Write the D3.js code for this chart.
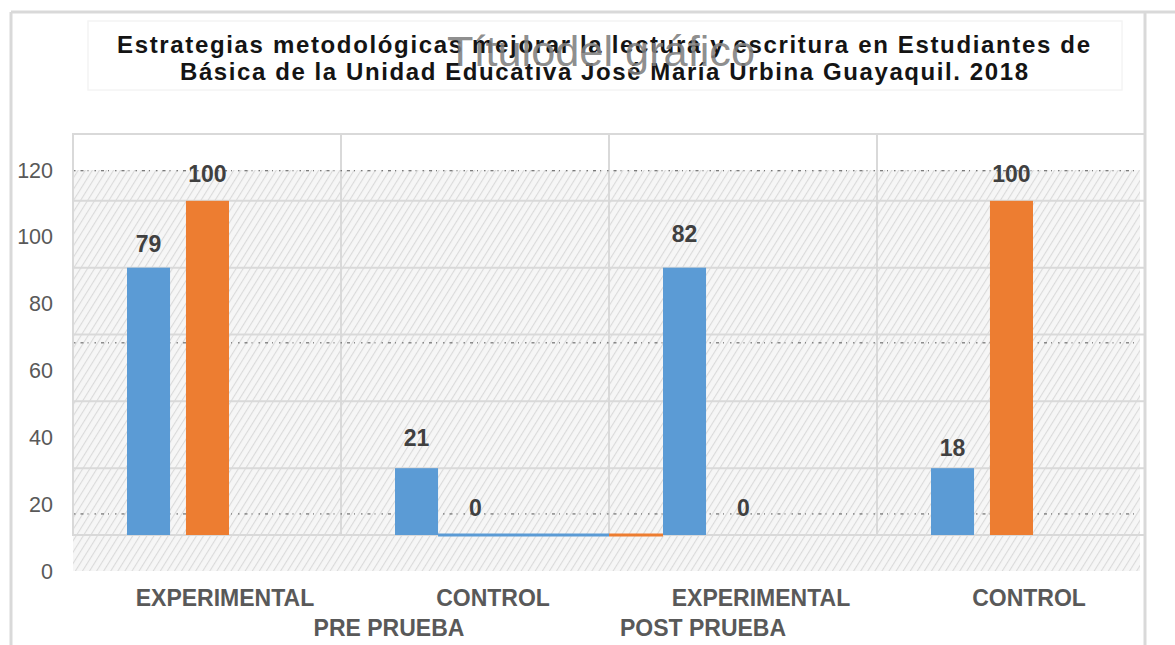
<!DOCTYPE html>
<html lang="es">
<head>
  <meta charset="UTF-8">
  <title>Estrategias metodológicas</title>
  <style>
  body { margin: 0; background: #fff; }
  svg { display: block; font-family: 'Liberation Sans', Arial, sans-serif; }
  .frame { stroke: #d9d9d9; stroke-width: 3; fill: none; }
  .grid line { stroke: #d9d9d9; stroke-width: 2; }
  .ytick { fill: #595959; font-size: 21.5px; }
  .xcat { fill: #595959; font-size: 23px; font-weight: bold; }
  .val { fill: #404040; font-size: 23px; font-weight: bold; }
  .dots { stroke: #555; stroke-width: 1; stroke-dasharray: 1.5 5 3 4 1 6; }
  </style>
</head>
<body>
  <svg width="1175" height="645"></svg>
  <script src="https://d3js.org/d3.v7.min.js"></script>
  <script>

  // data
  var categories = ['PRE EXPERIMENTAL', 'PRE CONTROL', 'POST EXPERIMENTAL', 'POST CONTROL'];
  var catLabels = ['EXPERIMENTAL', 'CONTROL', 'EXPERIMENTAL', 'CONTROL'];
  var groups = ['PRE PRUEBA', 'POST PRUEBA'];
  var seriesNames = ['s1', 's2'];
  var blueValues = [79, 21, 82, 18];
  var orangeValues = [100, 0, 0, 100];
  var yTicks = [0, 20, 40, 60, 80, 100, 120];
  var dottedLevels = [109, 57.5, 6.3];
  var titleLines = [
    'Estrategias metodológicas mejorar la lectura y escritura en Estudiantes de',
    'Básica de la Unidad Educativa José María Urbina Guayaquil. 2018'
  ];
  var ghostTitle = 'Títulodel gráfico';

  var colors = { s1: '#5b9bd5', s2: '#ed7d31' };

  var svg = d3.select('svg');

  var x = d3.scaleBand().domain(categories).range([73, 1145]);
  var inner = d3.scaleBand().domain(seriesNames).range([54, 156]).paddingInner(0.27);
  var y = d3.scaleLinear().domain([0, 120]).range([535, 134]);
  var labelShift = 36; // tick labels sit half a step below their gridlines

  // hatched plot background
  var defs = svg.append('defs');
  var pat = defs.append('pattern')
    .attr('id', 'hatch')
    .attr('patternUnits', 'userSpaceOnUse')
    .attr('width', 6).attr('height', 6)
    .attr('patternTransform', 'rotate(32)');
  pat.append('rect').attr('width', 6).attr('height', 6).attr('fill', '#f6f6f6');
  pat.append('line').attr('x1', 0).attr('y1', 0).attr('x2', 0).attr('y2', 6)
    .attr('stroke', '#dadada').attr('stroke-width', 2.2);

  // outer frame
  svg.append('line').attr('class', 'frame').attr('x1', 11).attr('y1', 12).attr('x2', 1175).attr('y2', 12);
  svg.append('line').attr('class', 'frame').attr('x1', 11).attr('y1', 12).attr('x2', 11).attr('y2', 645);
  svg.append('line').attr('class', 'frame').attr('x1', 1145).attr('y1', 12).attr('x2', 1145).attr('y2', 645);

  // faint title box
  svg.append('rect')
    .attr('x', 88).attr('y', 21).attr('width', 1034).attr('height', 69)
    .attr('fill', '#fff').attr('stroke', '#f4f4f4').attr('stroke-width', 1.5);

  svg.append('rect')
    .attr('x', 73).attr('y', y(120) + labelShift)
    .attr('width', 1067).attr('height', y(0) - y(120))
    .attr('fill', 'url(#hatch)');

  // grid
  var grid = svg.append('g').attr('class', 'grid');
  grid.selectAll('.h').data(yTicks).enter().append('line')
    .attr('x1', 73).attr('x2', 1145)
    .attr('y1', function (d) { return y(d); })
    .attr('y2', function (d) { return y(d); });
  grid.selectAll('.v').data(categories).enter().append('line')
    .attr('x1', function (d) { return x(d) + x.bandwidth(); })
    .attr('x2', function (d) { return x(d) + x.bandwidth(); })
    .attr('y1', y(120)).attr('y2', y(0));
  grid.append('line').attr('x1', 73).attr('x2', 73).attr('y1', y(120) - 1).attr('y2', y(0) + 1);

  // stray dotted lines across the plot
  svg.selectAll('.dots').data(dottedLevels).enter().append('line')
    .attr('class', 'dots')
    .attr('x1', 74).attr('x2', 1140)
    .attr('y1', function (d) { return y(d); })
    .attr('y2', function (d) { return y(d); });

  // y tick labels
  svg.selectAll('.ytick').data(yTicks).enter().append('text')
    .attr('class', 'ytick')
    .attr('x', 53)
    .attr('y', function (d) { return y(d) + labelShift; })
    .attr('dy', '0.35em')
    .attr('text-anchor', 'end')
    .text(function (d) { return d; });

  var rows = categories.map(function (c, i) {
    return { cat: c, s1: blueValues[i], s2: orangeValues[i] };
  });

  // bars: in the picture the bar tops sit on the nearest gridline
  seriesNames.forEach(function (s) {
    svg.selectAll('.bar-' + s).data(rows.filter(function (r) { return r[s] > 0; }))
      .enter().append('rect')
      .attr('x', function (r) { return x(r.cat) + inner(s); })
      .attr('width', inner.bandwidth())
      .attr('y', function (r) { return y(Math.round(r[s] / 20) * 20); })
      .attr('height', function (r) { return y(0) - y(Math.round(r[s] / 20) * 20); })
      .attr('fill', colors[s]);
  });

  // zero bars show as thin strips on the baseline
  svg.append('rect')
    .attr('x', x(categories[1]) + inner('s1') + inner.bandwidth())
    .attr('width', x.bandwidth() - inner('s1') - inner.bandwidth())
    .attr('y', y(0) - 1.5).attr('height', 3)
    .attr('fill', colors.s1);
  svg.append('rect')
    .attr('x', x(categories[2]))
    .attr('width', inner('s1'))
    .attr('y', y(0) - 1.5).attr('height', 3)
    .attr('fill', colors.s2);

  // value labels
  seriesNames.forEach(function (s) {
    svg.selectAll('.val-' + s).data(rows).enter().append('text')
      .attr('class', 'val')
      .attr('x', function (r) { return x(r.cat) + inner(s) + inner.bandwidth() / 2; })
      .attr('y', function (r) { return y(r[s]) - 27; })
      .attr('dy', '0.35em')
      .attr('text-anchor', 'middle')
      .text(function (r) { return r[s]; });
  });

  // category labels
  svg.selectAll('.xcat').data(categories).enter().append('text')
    .attr('class', 'xcat')
    .attr('x', function (d) { return x(d) + 152; })
    .attr('y', 606)
    .attr('text-anchor', 'middle')
    .text(function (d, i) { return catLabels[i]; });

  // group labels
  var groupX = [x(categories[1]) + 48, x(categories[2]) + 94];
  svg.selectAll('.grp').data(groups).enter().append('text')
    .attr('class', 'xcat')
    .attr('x', function (d, i) { return groupX[i]; })
    .attr('y', 636)
    .attr('text-anchor', 'middle')
    .text(function (d) { return d; });

  // title
  var tBase = [53, 80];
  var tLen = [973, 848];
  svg.selectAll('.title').data(titleLines).enter().append('text')
    .attr('x', function (d, i) { return i === 0 ? 117 : 180; })
    .attr('y', function (d, i) { return tBase[i]; })
    .attr('textLength', function (d, i) { return tLen[i]; })
    .attr('lengthAdjust', 'spacing')
    .attr('font-size', 24)
    .attr('font-weight', 'bold')
    .attr('fill', '#141414')
    .text(function (d) { return d; });

  svg.append('text')
    .attr('x', 447).attr('y', 66)
    .attr('textLength', 308)
    .attr('lengthAdjust', 'spacingAndGlyphs')
    .attr('font-size', 42)
    .attr('fill', '#7f7f7f')
    .attr('fill-opacity', 0.9)
    .text(ghostTitle);
  </script>
</body>
</html>
